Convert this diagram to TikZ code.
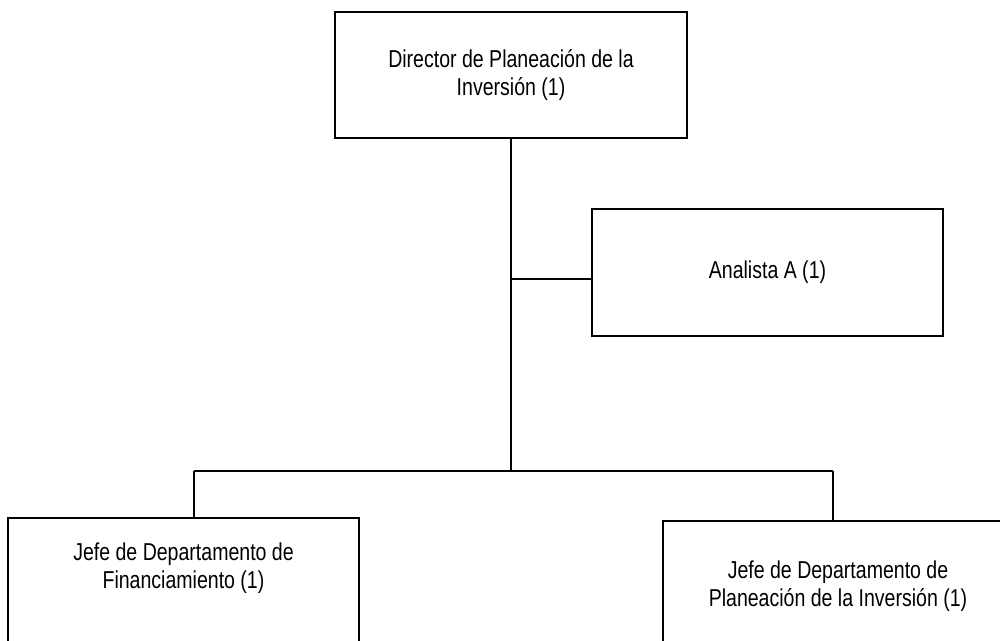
\documentclass[tikz,border=0pt]{standalone}
\usepackage{fontspec}
\setmainfont{Liberation Sans}[FakeStretch=0.8]
\usepackage{tikz}
\usetikzlibrary{shapes,arrows}
\tikzstyle{block} = [rectangle, draw, line width=1.1pt, align=center, minimum width=7.02cm, font=\fontsize{13.9pt}{15.9pt}\selectfont]
\tikzstyle{line} = [draw, line width=1.1pt]

\begin{document}
\begin{tikzpicture}[x=0.02cm, y=-0.02cm]
\useasboundingbox (0,0) rectangle (1000,641);

\node [block, minimum width=7.04cm, minimum height=2.52cm] (dir) at (511,75) {Director de Planeación de la\\Inversión (1)};

\node [block, minimum height=2.54cm] (ana) at (767.5,272.5) {Analista A (1)};

\node [block, anchor=north, inner ysep=0.5cm, text depth=2cm] (fin) at (183.5,517) {Jefe de Departamento de\\Financiamiento (1)};
\node [block, anchor=north, inner ysep=0.8cm, text depth=2cm] (pla) at (838,520) {Jefe de Departamento de\\Planeación de la Inversión (1)};

\coordinate (mid) at (511,279);
\coordinate (bus) at (511,471);
\coordinate (busl) at (194,471);
\coordinate (busr) at (833,471);

\path [line] (dir.south) -- (bus);
\path [line] (mid) -- (mid -| ana.west);

\path [line] (busl) -- (busr);
\path [line] (busl) -- (busl |- fin.north);
\path [line] (busr) -- (busr |- pla.north);

\end{tikzpicture}
\end{document}
